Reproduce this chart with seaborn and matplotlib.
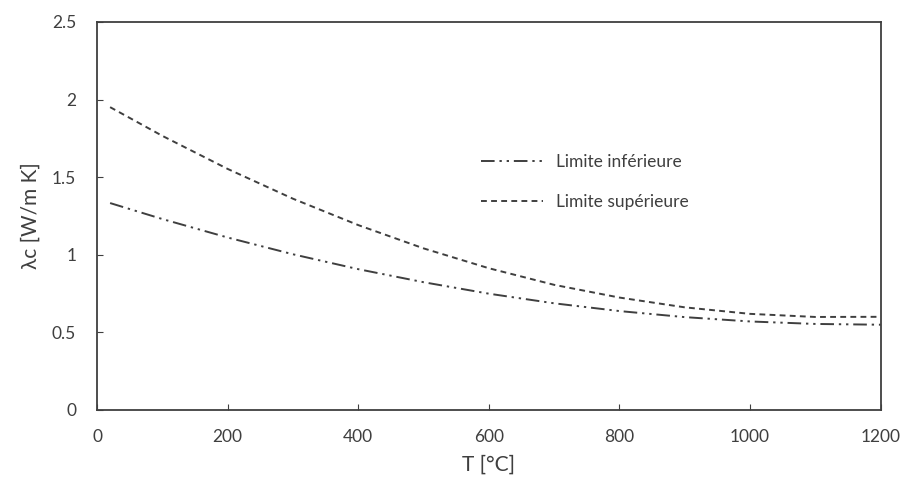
import numpy as np
import pandas as pd
import matplotlib
matplotlib.use("Agg")
import matplotlib.pyplot as plt
import seaborn as sns

# temperatures [°C] and conductivity
temp = [20, 100, 200, 300, 400, 500, 600, 700, 800, 900, 1000, 1100, 1200]
lam_inf = [1.333, 1.230, 1.111, 1.003, 0.907, 0.823, 0.749, 0.687, 0.637, 0.598, 0.570, 0.554, 0.549]
lam_sup = [1.951, 1.766, 1.553, 1.361, 1.191, 1.041, 0.913, 0.806, 0.724, 0.661, 0.619, 0.599, 0.600]

sns.set_style("white")
plt.rcParams["font.family"] = ["Lato", "DejaVu Sans"]

df = pd.DataFrame({"T": temp, "inf": lam_inf, "sup": lam_sup})

fig, ax = plt.subplots(figsize=(9.07, 4.88), dpi=100)
fig.subplots_adjust(left=0.107, right=0.971, top=0.955, bottom=0.16)

grey = "#3f3f3f"
sns.lineplot(data=df, x="T", y="inf", ax=ax, color=grey, lw=1.4,
             label="Limite inférieure")
ax.lines[-1].set_dashes([7, 2.5, 1.2, 2.5, 1.2, 2.5])
sns.lineplot(data=df, x="T", y="sup", ax=ax, color=grey, lw=1.4,
             label="Limite supérieure")
ax.lines[-1].set_dashes([3, 2.2])

ax.set_xlim(0, 1200)
ax.set_ylim(0, 2.5)
ax.set_xticks(range(0, 1201, 200))
ax.set_yticks([0, 0.5, 1, 1.5, 2, 2.5])
ax.set_yticklabels(["0", "0.5", "1", "1.5", "2", "2.5"])
ax.tick_params(axis="both", labelsize=12.5, direction="in", length=4,
               color=grey, labelcolor=grey, left=True, bottom=True)
ax.tick_params(axis="x", pad=14)
ax.tick_params(axis="y", pad=15)
ax.set_xlabel("T [°C]", fontsize=15, color=grey, labelpad=7)
ax.set_ylabel("λc [W/m K]", fontsize=15, color=grey, labelpad=8)
for s in ax.spines.values():
    s.set_color(grey)
    s.set_linewidth(1.3)

ax.legend(loc="upper left", bbox_to_anchor=(0.47, 0.70), frameon=False,
          fontsize=12.5, handlelength=3.6, handletextpad=0.7,
          labelspacing=1.4, labelcolor=grey)

fig.savefig("out.png", dpi=100)
